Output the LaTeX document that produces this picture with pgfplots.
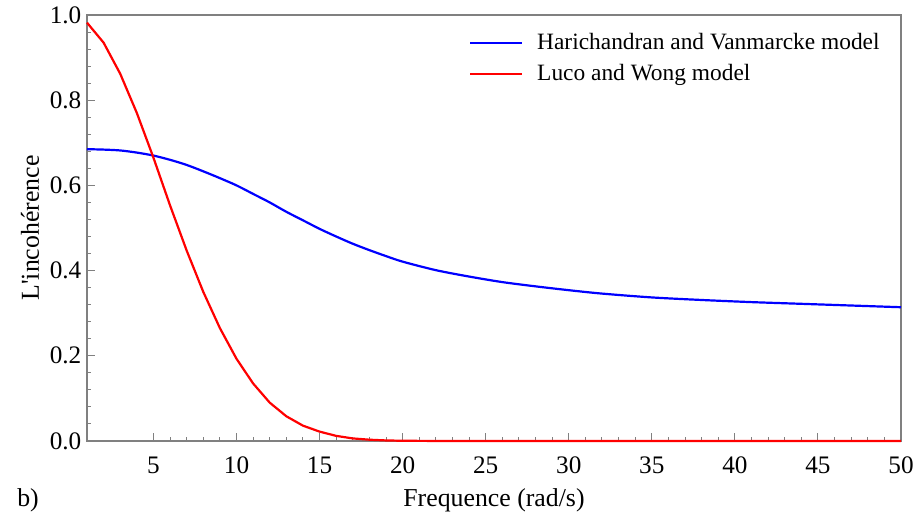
\documentclass[border=0pt]{standalone}
\usepackage{fontspec}
\setmainfont{Liberation Serif}[Ligatures=TeX]
\usepackage{pgfplots}
\pgfplotsset{compat=1.18}
\begin{document}
\fontsize{12.5}{15}\selectfont
\begin{tikzpicture}
\begin{axis}[
  scale only axis,
  width=407pt, height=213pt,
  xmin=1, xmax=50, ymin=0, ymax=1,
  xtick={5,10,...,50}, minor x tick num=4,
  ytick={0,0.2,0.4,0.6,0.8,1.0}, minor y tick num=4,
  xtick pos=bottom, ytick pos=left,
  tick align=inside,
  major tick length=4pt, minor tick length=2pt,
  tick style={gray, line width=0.5pt},
  axis line style={gray, line width=0.6pt},
  /pgf/number format/assume math mode=true,
  yticklabel style={/pgf/number format/.cd, fixed, fixed zerofill, precision=1, /tikz/.cd, xshift=1.5pt},
  xticklabel style={yshift=-3.5pt},
  ticklabel style={font=\rmfamily\fontsize{12.6}{15}\selectfont},
  xlabel={Frequence (rad/s)},
  ylabel={L\textquotesingle incohérence},
  label style={font=\rmfamily\fontsize{12.9}{15}\selectfont},
  xlabel style={at={(rel axis cs:0.5,0)}, anchor=center, yshift=-29.5pt},
  ylabel style={at={(rel axis cs:0,0.5)}, anchor=center, yshift=28.5pt},
  clip=false,
  legend style={at={(rel axis cs:1,1)}, anchor=north east, xshift=-5.5pt, yshift=-5pt,
    draw=none, fill=none, font=\rmfamily\fontsize{11.7}{14}\selectfont,
    row sep=1.4pt,
    /tikz/every odd column/.append style={column sep=5pt}},
  legend cell align=left,
  legend image code/.code={\draw[#1] (0pt,0pt) -- (26pt,0pt);},
]
\addplot[blue, line width=1.1pt, smooth] coordinates {
(1,0.685) (2,0.684) (3,0.682) (4,0.677) (5,0.670) (6,0.660) (7,0.648) (8,0.633) (9,0.617) (10,0.600)
(11,0.580) (12,0.560) (13,0.538) (14,0.518) (15,0.498) (16,0.480) (17,0.463) (18,0.448) (19,0.434) (20,0.421)
(22,0.401) (24,0.386) (26,0.373) (28,0.363) (30,0.354) (32,0.346) (35,0.337) (38,0.331) (41,0.326) (44,0.322) (47,0.318) (50,0.314)
};
\addlegendentry{Harichandran and Vanmarcke model}
\addplot[red, line width=1.1pt] coordinates {
(1,0.982) (2,0.935) (3,0.862) (4,0.770) (5,0.665) (6,0.553) (7,0.447) (8,0.350) (9,0.265) (10,0.193)
(11,0.135) (12,0.090) (13,0.058) (14,0.036) (15,0.022) (16,0.012) (17,0.006) (18,0.003) (19,0.0013) (20,0.0005)
(22,0.0001) (25,0) (30,0) (35,0) (40,0) (45,0) (50,0)
};
\addlegendentry{Luco and Wong model}
\node[font=\rmfamily\fontsize{12.9}{15}\selectfont] at (rel axis cs:0,0) [xshift=-29.5pt, yshift=-29.5pt] {b)};
\end{axis}
\pgfresetboundingbox
\path[use as bounding box] ([xshift=-43.5pt,yshift=-40.5pt]current axis.south west) rectangle ([xshift=8pt,yshift=7.5pt]current axis.north east);
\end{tikzpicture}
\end{document}
